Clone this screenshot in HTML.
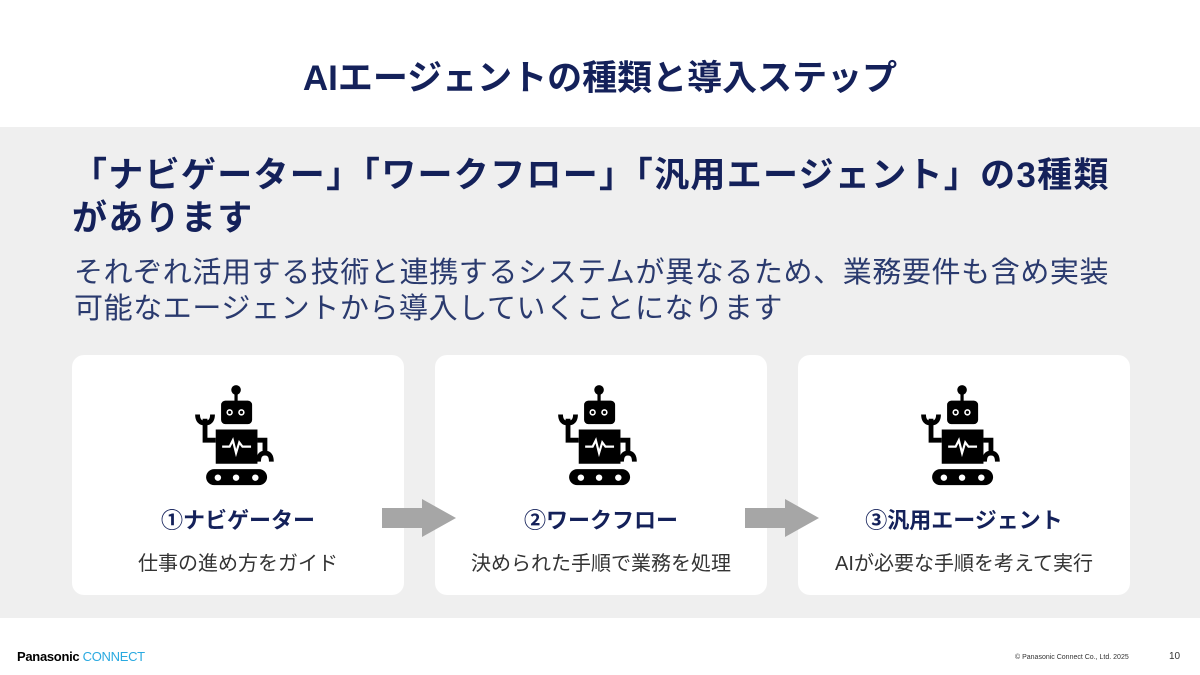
<!DOCTYPE html>
<html><head><meta charset="utf-8"><style>
*{margin:0;padding:0;box-sizing:border-box}
body{width:1200px;height:675px;background:#fff;position:relative;overflow:hidden;font-family:"Liberation Sans","Noto Sans CJK JP",sans-serif;color:#14215a}
.abs{position:absolute}
.title{top:50px;left:0;width:1200px;text-align:center;font-size:35px;font-weight:bold}
.bg{top:127px;left:0;width:1200px;height:491px;background:#efefef}
.h{left:72px;top:154px;font-size:35px;font-weight:bold;line-height:43px;letter-spacing:1.3px;white-space:nowrap}
.sub{left:74px;top:255px;font-size:29px;line-height:36px;color:#2a3a6e;letter-spacing:0.6px;white-space:nowrap}
.card{background:#fff;border-radius:12px;top:355px;width:332px;height:240px}
.card .n{position:absolute;top:148px;width:100%;text-align:center;font-size:22px;font-weight:bold}
.card .d{position:absolute;top:192px;width:100%;text-align:center;font-size:20px;color:#333}
.card svg{position:absolute;left:106px;top:24px}
</style></head><body>
<div class="abs title">AIエージェントの種類と導入ステップ</div>
<div class="abs bg"></div>
<div class="abs h">「ナビゲーター」「ワークフロー」「汎用エージェント」の3種類<br>があります</div>
<div class="abs sub">それぞれ活用する技術と連携するシステムが異なるため、業務要件も含め実装<br>可能なエージェントから導入していくことになります</div>
<svg width="0" height="0" style="position:absolute"><defs><g id="r" transform="translate(-4,-3) scale(1.07)">
<circle cx="58" cy="13" r="4.5" fill="#000"/><rect x="56.5" y="14" width="3" height="10" fill="#000"/>
<rect x="44" y="23" width="29" height="22" rx="4" fill="#000"/>
<circle cx="52" cy="34" r="3" fill="#fff"/><circle cx="52" cy="34" r="1.5" fill="#000"/>
<circle cx="63" cy="34" r="3" fill="#fff"/><circle cx="63" cy="34" r="1.5" fill="#000"/>
<rect x="39" y="50" width="39" height="32" fill="#000"/>
<polyline points="45,66 52,66 55,60 58,72 61,62 64,66 72,66" fill="none" stroke="#fff" stroke-width="2"/>
<path d="M39 60 H29 V40" fill="none" stroke="#000" stroke-width="4.5"/>
<path d="M22 36 Q22 44 29 44 Q36 44 36 36" fill="none" stroke="#000" stroke-width="4.5"/>
<path d="M78 60 H85 V74" fill="none" stroke="#000" stroke-width="4.5"/>
<path d="M79 80 Q79 72 85 72 Q91 72 91 80" fill="none" stroke="#000" stroke-width="4.5"/>
<rect x="30" y="87" width="57" height="15" rx="7.5" fill="#000"/>
<circle cx="41" cy="95" r="3" fill="#fff"/><circle cx="58" cy="95" r="3" fill="#fff"/><circle cx="76" cy="95" r="3" fill="#fff"/>
</g></defs></svg>
<div class="abs card" style="left:72px"><svg width="110" height="110"><use href="#r"/></svg><div class="n">①ナビゲーター</div><div class="d">仕事の進め方をガイド</div></div>
<div class="abs card" style="left:435px"><svg width="110" height="110"><use href="#r"/></svg><div class="n">②ワークフロー</div><div class="d">決められた手順で業務を処理</div></div>
<div class="abs card" style="left:798px"><svg width="110" height="110"><use href="#r"/></svg><div class="n">③汎用エージェント</div><div class="d">AIが必要な手順を考えて実行</div></div>
<svg class="abs" style="left:380px;top:497px" width="78" height="42"><polygon points="2,11 42,11 42,2 76,21 42,40 42,31 2,31" fill="#a6a6a6"/></svg>
<svg class="abs" style="left:743px;top:497px" width="78" height="42"><polygon points="2,11 42,11 42,2 76,21 42,40 42,31 2,31" fill="#a6a6a6"/></svg>
<div class="abs" style="left:17px;top:649px;font-size:13px;font-weight:bold;color:#000;letter-spacing:-0.3px">Panasonic <span style="color:#29a9e0;font-weight:normal">CONNECT</span></div>
<div class="abs" style="left:1015px;top:654px;font-size:7px;color:#333">© Panasonic Connect Co., Ltd. 2025</div>
<div class="abs" style="left:1169px;top:651px;font-size:10px;color:#333">10</div>
</body></html>
